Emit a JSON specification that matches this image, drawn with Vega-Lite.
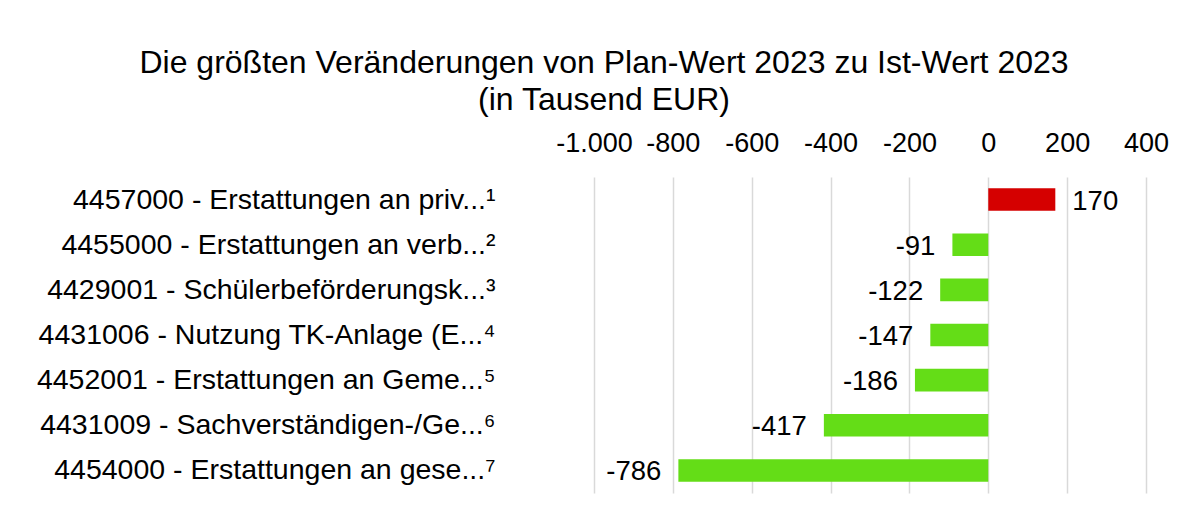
{
  "$schema": "https://vega.github.io/schema/vega-lite/v6.json",
  "autosize": {"type": "none"},
  "width": 552,
  "height": 316,
  "padding": {"left": 594, "top": 177, "right": 48, "bottom": 23},
  "background": "white",
  "config": {
    "font": "Liberation Sans",
    "view": {"stroke": null},
    "locale": {"number": {"decimal": ",", "thousands": ".", "grouping": [3], "currency": ["", " €"], "minus": "-"}}
  },
  "title": {
    "text": ["Die größten Veränderungen von Plan-Wert 2023 zu Ist-Wert 2023", "(in Tausend EUR)"],
    "fontSize": 32,
    "fontWeight": "normal",
    "color": "#000000",
    "lineHeight": 37,
    "anchor": "middle",
    "frame": "group",
    "dx": -266,
    "offset": 12
  },
  "data": {
    "values": [
      {"label": "4457000 - Erstattungen an priv...¹", "value": 170},
      {"label": "4455000 - Erstattungen an verb...²", "value": -91},
      {"label": "4429001 - Schülerbeförderungsk...³", "value": -122},
      {"label": "4431006 - Nutzung TK-Anlage (E...⁴", "value": -147},
      {"label": "4452001 - Erstattungen an Geme...⁵", "value": -186},
      {"label": "4431009 - Sachverständigen-/Ge...⁶", "value": -417},
      {"label": "4454000 - Erstattungen an gese...⁷", "value": -786}
    ]
  },
  "encoding": {
    "y": {
      "field": "label",
      "type": "nominal",
      "sort": null,
      "title": null,
      "scale": {"paddingInner": 0.5, "paddingOuter": 0.25},
      "axis": {
        "orient": "left",
        "ticks": false,
        "tickSize": 0,
        "domain": false,
        "labelPadding": 99,
        "labelFontSize": 28.5,
        "labelColor": "#000000",
        "labelLimit": 0
      }
    },
    "x": {
      "field": "value",
      "type": "quantitative",
      "title": null,
      "scale": {"domain": [-1000, 400], "nice": false, "zero": true},
      "axis": {
        "orient": "top",
        "values": [-1000, -800, -600, -400, -200, 0, 200, 400],
        "format": ",d",
        "ticks": false,
        "tickSize": 0,
        "domain": false,
        "labelPadding": 20,
        "labelFontSize": 27,
        "labelColor": "#000000",
        "grid": true,
        "gridColor": "#d9d9d9",
        "gridWidth": 1.5,
        "labelFlush": false
      }
    }
  },
  "layer": [
    {
      "mark": {"type": "bar"},
      "encoding": {
        "color": {"condition": {"test": "datum.value > 0", "value": "#D50000"}, "value": "#64DD17"}
      }
    },
    {
      "transform": [{"filter": "datum.value >= 0"}],
      "mark": {"type": "text", "align": "left", "baseline": "middle", "dx": 17, "dy": 2, "fontSize": 27.5, "color": "#000000"},
      "encoding": {"text": {"field": "value", "type": "quantitative", "format": "d"}}
    },
    {
      "transform": [{"filter": "datum.value < 0"}],
      "mark": {"type": "text", "align": "right", "baseline": "middle", "dx": -17, "dy": 2, "fontSize": 27.5, "color": "#000000"},
      "encoding": {"text": {"field": "value", "type": "quantitative", "format": "d"}}
    }
  ]
}
